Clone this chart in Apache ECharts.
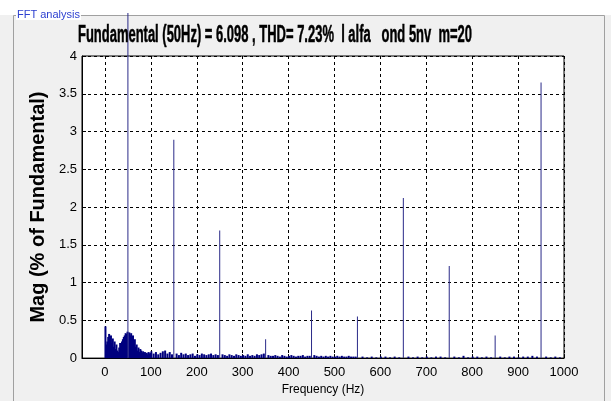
<!DOCTYPE html>
<html><head><meta charset="utf-8">
<script src="https://cdn.jsdelivr.net/npm/echarts@6/dist/echarts.min.js"></script>
<style>html,body{margin:0;padding:0;background:#fff}#c{width:611px;height:401px}</style>
</head><body><div id="c"></div>
<script>
// Data
const titleText = 'Fundamental (50Hz) = 6.098 , THD= 7.23%  l alfa   ond 5nv  m=20';
const xTicks = [0,100,200,300,400,500,600,700,800,900,1000];
const yTicks = [0,0.5,1,1.5,2,2.5,3,3.5,4];
const harmonicFreq = [50,150,250,350,450,550,650,750,850,950];
const harmonicMag  = [4.57,2.89,1.69,0.25,0.63,0.55,2.12,1.22,0.30,3.65];
const lowFreq = [0,2,4,6,8,10,12,14,16,18,20,22,24,26,28,30,32,34,36,38,40,42,44,46,48,52,54,56,58,60,62,64,66,68,70,72,74,76,78,80,82,84,86,88,90,92,94,96,98,100];
const lowMag  = [0.42,0.18,0.22,0.28,0.32,0.25,0.30,0.20,0.26,0.15,0.22,0.12,0.18,0.10,0.08,0.14,0.20,0.12,0.22,0.25,0.28,0.30,0.33,0.32,0.35,0.34,0.30,0.33,0.28,0.30,0.22,0.25,0.15,0.18,0.10,0.14,0.08,0.12,0.10,0.07,0.09,0.06,0.08,0.06,0.07,0.05,0.08,0.06,0.07,0.09];
const midFreq = [105,110,115,120,125,130,135,140,145,155,160,165,170,175,180,185,190,195,200,205,210,215,220,225,230,235,240,245,255,260,265,270,275,280,285,290,295,300,305,310,315,320,325,330,335,340,345,355,360,365,370,375,380,385,390,395,400,405,410,415,420,425,430,435,440,445,455,460,465,470,475,480,485,490,495,500,505,510,515,520,525,530,535,540,545];
const midMag  = [0.06,0.08,0.05,0.07,0.09,0.10,0.06,0.08,0.05,0.06,0.04,0.07,0.05,0.06,0.04,0.05,0.06,0.03,0.05,0.04,0.06,0.05,0.04,0.05,0.06,0.04,0.05,0.04,0.05,0.04,0.03,0.05,0.04,0.03,0.05,0.04,0.03,0.04,0.03,0.05,0.03,0.04,0.03,0.05,0.04,0.05,0.06,0.04,0.03,0.03,0.04,0.03,0.02,0.04,0.03,0.02,0.03,0.04,0.03,0.02,0.03,0.03,0.04,0.02,0.03,0.03,0.04,0.03,0.02,0.03,0.02,0.03,0.02,0.03,0.02,0.02,0.03,0.02,0.03,0.02,0.02,0.03,0.02,0.02,0.02];
const highFreq = [560,570,580,590,600,610,620,630,640,660,670,680,690,700,710,720,730,740,760,770,780,790,800,810,820,830,840,860,870,880,890,900,910,920,930,940,960,970,980,990];
const highMag  = [0.02,0.01,0.02,0.01,0.02,0.02,0.01,0.02,0.01,0.02,0.01,0.02,0.01,0.02,0.01,0.02,0.02,0.01,0.02,0.01,0.03,0.01,0.02,0.02,0.01,0.02,0.01,0.02,0.01,0.02,0.02,0.01,0.02,0.02,0.03,0.02,0.02,0.01,0.02,0.01];

const zip = (a,b) => a.map((v,i)=>[v,b[i]]);
const noise = zip(lowFreq,lowMag).concat(zip(midFreq,midMag), zip(highFreq,highMag));

// title compressed to the reference width (condensed font look)
const titleFont = 'bold 23px "Liberation Sans", Arial, sans-serif';
const cv = document.createElement('canvas').getContext('2d');
cv.font = titleFont;
const titleW = cv.measureText(titleText).width;
const titleScale = 394 / titleW;

const chart = echarts.init(document.getElementById('c'), null, {renderer:'canvas'});
chart.setOption({
  animation:false,
  backgroundColor:'#ffffff',
  graphic:[
    {type:'rect', z:-10, shape:{x:0,y:15,width:611,height:386}, style:{fill:'#f0f0f0'}, silent:true},
    {type:'polyline', z:-9, shape:{points:[[13.5,401],[13.5,15.5],[604.5,15.5],[604.5,401]]}, style:{stroke:'#a0a0a0',lineWidth:1,fill:null}, silent:true},
    {type:'text', z:-8, x:16, y:9, style:{text:'FFT analysis', fill:'#2c3fd0', font:'11px "Liberation Sans", Arial, sans-serif', backgroundColor:'#ffffff', padding:[0,1]}, silent:true},
    {type:'text', z:5, x:78, y:36, scaleX:titleScale, scaleY:1.0, style:{text:titleText, fill:'#000', stroke:'#000', lineWidth:0.5, font:titleFont, textVerticalAlign:'middle', textAlign:'left'}, silent:true}
  ],
  grid:{left:82, top:56, right:47, bottom:39, show:true, backgroundColor:'#ffffff', borderColor:'#000', borderWidth:1},
  xAxis:{
    type:'value', min:-50, max:1000,
    name:'Frequency (Hz)', nameLocation:'middle', nameGap:24,
    nameTextStyle:{fontFamily:'"Liberation Sans", Arial', fontSize:12, color:'#000'},
    axisLine:{show:true, onZero:false, lineStyle:{color:'#000'}},
    axisTick:{show:true, inside:true, length:4, customValues:xTicks, lineStyle:{color:'#000'}},
    axisLabel:{customValues:xTicks, formatter:v=>String(v), fontFamily:'"Liberation Sans", Arial', fontSize:13, color:'#000', margin:8},
    splitLine:{show:true, lineStyle:{color:'#000', type:[3,3], width:1}}
  },
  yAxis:{
    type:'value', min:0, max:4, interval:0.5,
    name:'Mag (% of Fundamental)', nameLocation:'middle', nameGap:34,
    nameTextStyle:{fontFamily:'"Liberation Sans", Arial', fontSize:20, fontWeight:'bold', color:'#000'},
    axisLine:{show:true, onZero:false, lineStyle:{color:'#000'}},
    axisTick:{show:true, inside:true, length:4, lineStyle:{color:'#000'}},
    axisLabel:{formatter:v=>String(v), fontFamily:'"Liberation Sans", Arial', fontSize:13, color:'#000', margin:5},
    splitLine:{show:true, lineStyle:{color:'#000', type:[3,3], width:1}}
  },
  series:[
    {type:'bar', data:noise, barWidth:2, barGap:'-100%', itemStyle:{color:'#00007f'}, clip:true},
    {type:'bar', data:zip(harmonicFreq,harmonicMag), barWidth:1, barGap:'-100%', itemStyle:{color:'#2a2a88'}, clip:false, z:3}
  ]
});
</script></body></html>
